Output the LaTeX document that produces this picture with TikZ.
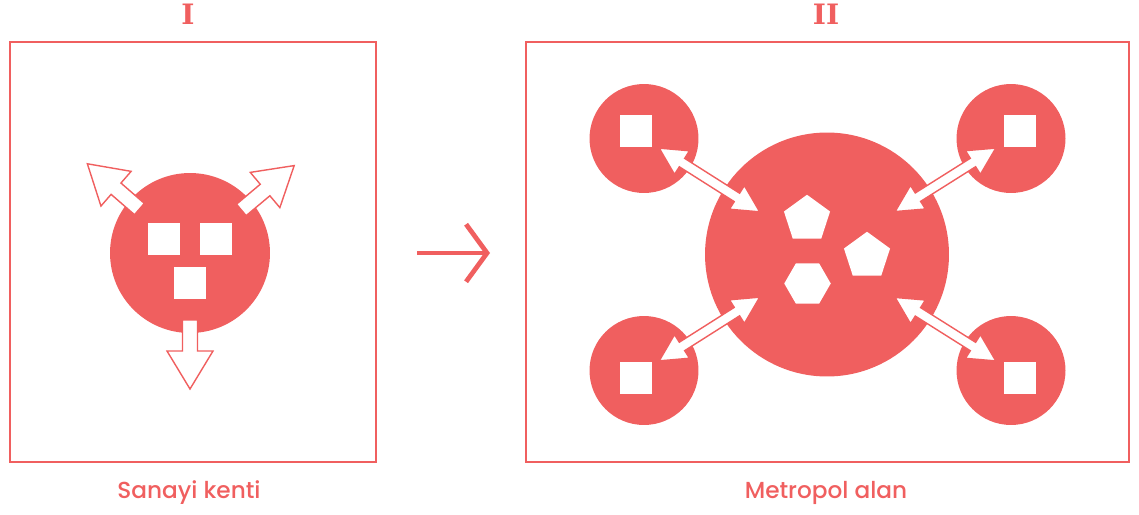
\documentclass[tikz,border=0pt]{standalone}
\usepackage{fontspec}
\setmainfont{Poppins Medium}
\newfontfamily\slabfont{DejaVu Serif}
\usetikzlibrary{shapes.geometric, arrows.meta, calc}
\definecolor{coral}{RGB}{240,95,95}
\tikzset{
    panel/.style={draw=coral, line width=1.2pt},
    disc/.style={circle, fill=coral, inner sep=0pt},
    lot/.style={rectangle, fill=white, inner sep=0pt, minimum size=0.64cm},
    hub/.style={regular polygon, regular polygon sides=5, fill=white, inner sep=0pt, minimum size=0.97cm},
    hexhub/.style={regular polygon, regular polygon sides=6, fill=white, inner sep=0pt, minimum size=0.93cm},
    hollow/.style={draw=coral, fill=white, line width=0.8pt, line join=miter},
    heading/.style={text=coral, font=\slabfont\bfseries\fontsize{16}{19}\selectfont},
    legend/.style={text=coral, font=\fontsize{13.2}{16}\selectfont, anchor=base},
    shiftarrow/.style={draw=coral, line width=2.7pt, -{Straight Barb[length=0.42cm, width=1.15cm]}},
    pics/outarrow/.style={code={
        \draw[hollow] (67,-7.5) -- (98,-7.5) -- (98,-23) -- (136,0) -- (98,23) -- (98,7.5) -- (67,7.5) -- cycle;
    }},
    pics/linkarrow/.style={code={
        \draw[hollow] (18,0) -- (45,-14) -- (45,-5) -- (110,-5) -- (110,-14) -- (137,0)
            -- (110,14) -- (110,5) -- (45,5) -- (45,14) -- cycle;
    }},
}

\begin{document}
\begin{tikzpicture}[x=0.02cm, y=-0.02cm]
\useasboundingbox (0,0) rectangle (1139,514);

% panel I
\draw[panel] (10,42) rectangle (376,462);
\node[heading] (one) at (188,14) {I};
\node[disc, minimum size=3.2cm] (city) at (190,253) {};
\node[lot] (lotA) at (164,239) {};
\node[lot] (lotB) at (216,239) {};
\node[lot] (lotC) at (190,283) {};
\pic[rotate=139] at (city.center) {outarrow};
\pic[rotate=40] at (city.center) {outarrow};
\pic[rotate=270] at (city.center) {outarrow};
\node[legend] (cityname) at (189,498) {Sanayi kenti};

% change
\coordinate (gofrom) at (417,253);
\coordinate (goto) at (490,253);
\draw[shiftarrow] (gofrom) -- (goto);

% panel II
\draw[panel] (526,42) rectangle (1129,462);
\node[heading] (two) at (826,14) {II};
\node[disc, minimum size=4.88cm] (metro) at (827,254.5) {};
\node[disc, minimum size=2.18cm] (satA) at (644,138.5) {};
\node[disc, minimum size=2.18cm] (satB) at (1011,138.5) {};
\node[disc, minimum size=2.18cm] (satC) at (644,370.5) {};
\node[disc, minimum size=2.18cm] (satD) at (1011,370.5) {};
\node[lot] at (636,131) {};
\node[lot] at (1020,131) {};
\node[lot] at (636,378) {};
\node[lot] at (1020,378) {};
\node[hub] (hubA) at (807,219) {};
\node[hub] (hubB) at (867,256) {};
\node[hexhub] (hubC) at (807.5,283.5) {};
\path let \p1 = ($(metro)-(satA)$), \n1 = {atan2(\y1,\x1)} in (satA) pic[rotate=\n1] {linkarrow};
\path let \p1 = ($(metro)-(satB)$), \n1 = {atan2(\y1,\x1)} in (satB) pic[rotate=\n1] {linkarrow};
\path let \p1 = ($(metro)-(satC)$), \n1 = {atan2(\y1,\x1)} in (satC) pic[rotate=\n1] {linkarrow};
\path let \p1 = ($(metro)-(satD)$), \n1 = {atan2(\y1,\x1)} in (satD) pic[rotate=\n1] {linkarrow};
\node[legend] (metroname) at (826,498) {Metropol alan};

\end{tikzpicture}
\end{document}
